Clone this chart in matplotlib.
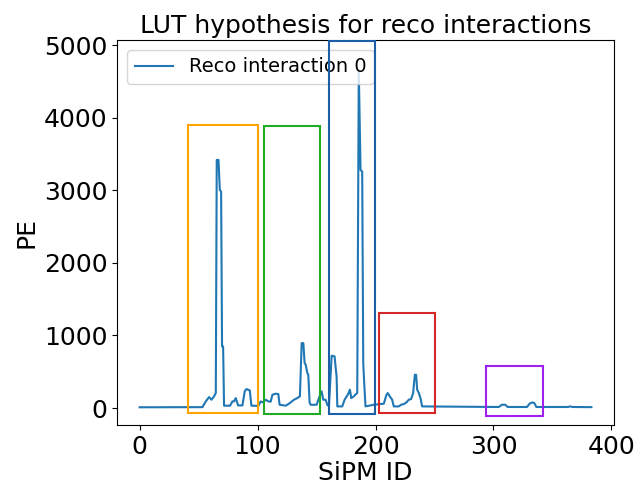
import matplotlib
matplotlib.use("Agg")
import matplotlib.pyplot as plt
from matplotlib.patches import Rectangle

# Line data (SiPM ID vs PE)
sipm_id = [0, 53.3, 56.1, 58.9, 60.9, 63.1, 64.6, 65.4, 66.9, 68.0, 69.1, 69.9, 70.8, 71.6,
           76.7, 78.7, 80.0, 81.5, 83.5, 87.2, 89.1, 90.5, 93.4, 94.8, 100.7,
           102.7, 104.6, 106.9, 109.2, 111.1, 112.6, 115.4, 117.6, 118.7, 123.8, 126.6,
           130.9, 133.7, 135.9, 137.4, 138.8, 139.9, 140.8, 142.2, 143.0, 144.1, 145.0,
           150.1, 152.0, 154.3, 155.7, 157.7, 159.1, 160.5, 162.8, 165.3, 166.1, 167.0,
           167.6, 171.8, 173.8, 175.5, 176.6, 178.3, 179.4, 181.6, 183.1, 184.5, 185.8,
           187.3, 188.7, 189.6, 190.4, 191.5, 198.6, 207.0, 209.3, 210.4, 212.1, 214.1,
           215.5, 219.7, 221.7, 224.0, 226.2, 228.2, 230.2, 231.9, 233.3, 234.4, 235.3,
           236.7, 238.1, 239.5, 304.4, 307.2, 310.0, 312.0, 328.4, 330.6, 332.6, 334.6,
           336.3, 363.0, 365.0, 367.0, 383.0]
pe = [10, 12, 91, 151, 114, 160, 206, 3417, 3417, 3004, 2981, 848, 848, 32,
      32, 91, 91, 137, 36, 36, 229, 261, 243, 32, 30,
      91, 77, 114, 91, 87, 183, 197, 192, 45, 32, 59,
      114, 137, 160, 894, 894, 619, 596, 482, 459, 77, 45,
      45, 137, 229, 114, 114, 45, 22, 720, 711, 573, 435,
      22, 22, 114, 160, 187, 252, 137, 160, 187, 206, 4650,
      3280, 3257, 619, 344, 22, 45, 59, 183, 206, 160, 114,
      22, 22, 45, 55, 77, 114, 124, 206, 458, 458, 252,
      206, 137, 22, 14, 45, 45, 14, 14, 59, 77, 69,
      14, 14, 22, 14, 12]

# Hypothesis boxes
box_x0 = [41, 105.5, 160.5, 203, 294]
box_x1 = [100.7, 153, 199.2, 250.2, 341.6]
box_y0 = [-69, -78, -83, -69, -115]
box_y1 = [3905, 3890, 5050, 1305, 582]
box_colors = ["#ffa500", "#22aa22", "#1a5fa8", "#d62728", "#a020f0"]

fig = plt.figure(figsize=(6.37, 4.84), dpi=100)
ax = fig.add_axes([117 / 637, 59 / 484, 497 / 637, 385 / 484])

ax.plot(sipm_id, pe, color="#1f77b4", lw=1.5, label="Reco interaction 0")
for x0, x1, y0, y1, c in zip(box_x0, box_x1, box_y0, box_y1, box_colors):
    ax.add_patch(Rectangle((x0, y0), x1 - x0, y1 - y0, fill=False,
                           edgecolor=c, lw=1.5, zorder=6))

ax.set_xlim(-19.15, 402.15)
ax.set_ylim(-234, 5069)
ax.set_xticks([0, 100, 200, 300, 400])
ax.set_yticks([0, 1000, 2000, 3000, 4000, 5000])
ax.tick_params(labelsize=18)
ax.set_title("LUT hypothesis for reco interactions", fontsize=18, pad=5)
ax.set_xlabel("SiPM ID", fontsize=18, labelpad=2)
ax.set_ylabel("PE", fontsize=18)
ax.legend(loc="upper left", fontsize=14)

fig.savefig("out.png", dpi=100)
